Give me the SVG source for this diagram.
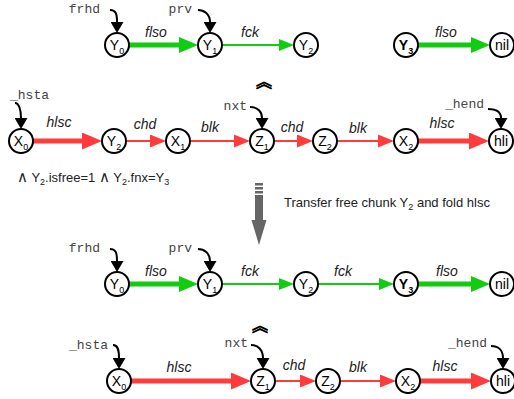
<svg xmlns="http://www.w3.org/2000/svg" width="514" height="399" viewBox="0 0 514 399">
<style>
.node circle{fill:#fff;stroke:#000;stroke-width:2}
.nl{font-family:"Liberation Sans",Arial,sans-serif;font-size:14px;fill:#000;text-anchor:middle}
.sub{font-size:9px}
.el{font-family:"Liberation Sans",Arial,sans-serif;font-size:14px;font-style:italic;fill:#222;text-anchor:middle}
.var{font-family:"Liberation Mono","Courier New",monospace;font-size:13px;fill:#444}
.txt{font-family:"Liberation Sans",Arial,sans-serif;font-size:13px;fill:#222}
.and{font-size:15px}
.gk{stroke:#11cc11;stroke-width:5;fill:none}
.gn{stroke:#11cc11;stroke-width:2;fill:none}
.rk{stroke:#ff3b3b;stroke-width:5;fill:none}
.rn{stroke:#ff3b3b;stroke-width:2;fill:none}
.ptr{stroke:#000;stroke-width:2;fill:none}
.car{font-family:"Noto Sans CJK SC",sans-serif;font-size:16px;fill:#000;stroke:#000;stroke-width:0.8;text-anchor:middle}
</style>
<defs>
<marker id="mgk" markerUnits="userSpaceOnUse" markerWidth="19" markerHeight="16" viewBox="0 0 19 16" refX="0" refY="8" orient="auto"><path d="M0,0L19,8L0,16z" fill="#11cc11"/></marker>
<marker id="mgn" markerUnits="userSpaceOnUse" markerWidth="15" markerHeight="12" viewBox="0 0 15 12" refX="0" refY="6" orient="auto"><path d="M0,0L15,6L0,12z" fill="#11cc11"/></marker>
<marker id="mrk" markerUnits="userSpaceOnUse" markerWidth="20" markerHeight="17" viewBox="0 0 20 17" refX="0" refY="8.5" orient="auto"><path d="M0,0L20,8.5L0,17z" fill="#ff3b3b"/></marker>
<marker id="mrn" markerUnits="userSpaceOnUse" markerWidth="16" markerHeight="13" viewBox="0 0 16 13" refX="0" refY="6.5" orient="auto"><path d="M0,0L16,6.5L0,13z" fill="#ff3b3b"/></marker>
<marker id="mp" markerUnits="userSpaceOnUse" markerWidth="11" markerHeight="13" viewBox="0 0 11 13" refX="0" refY="6.5" orient="auto"><path d="M0,0L11,6.5L0,13z" fill="#000"/></marker>
</defs>

<g id="connectors">
<!-- row 1 -->
<path class="gk" d="M129,45H179" marker-end="url(#mgk)"/>
<path class="gn" d="M222,45H279" marker-end="url(#mgn)"/>
<path class="gk" d="M418,45H471" marker-end="url(#mgk)"/>
<!-- row 2 -->
<path class="rk" d="M33,141H82" marker-end="url(#mrk)"/>
<path class="rn" d="M126,141H150" marker-end="url(#mrn)"/>
<path class="rn" d="M190,141H234" marker-end="url(#mrn)"/>
<path class="rn" d="M274,141H297" marker-end="url(#mrn)"/>
<path class="rn" d="M337,141H378" marker-end="url(#mrn)"/>
<path class="rk" d="M418,141H469" marker-end="url(#mrk)"/>
<!-- row 3 -->
<path class="gk" d="M129,284H179" marker-end="url(#mgk)"/>
<path class="gn" d="M222,284H279" marker-end="url(#mgn)"/>
<path class="gn" d="M318,284H379" marker-end="url(#mgn)"/>
<path class="gk" d="M418,284H471" marker-end="url(#mgk)"/>
<!-- row 4 -->
<path class="rk" d="M131,381H231" marker-end="url(#mrk)"/>
<path class="rn" d="M275,381H300" marker-end="url(#mrn)"/>
<path class="rn" d="M340,381H380" marker-end="url(#mrn)"/>
<path class="rk" d="M420,381H471" marker-end="url(#mrk)"/>
<!-- pointers -->
<path class="ptr" d="M110,10C116,10 117,14 117,22" marker-end="url(#mp)"/>
<path class="ptr" d="M198,10C204,10 210,14 210,22" marker-end="url(#mp)"/>
<path class="ptr" d="M15,103C19,103 21,110 21,118" marker-end="url(#mp)"/>
<path class="ptr" d="M250,107C258,107 262,112 262,118" marker-end="url(#mp)"/>
<path class="ptr" d="M488,109C496,109 501,112 501,118" marker-end="url(#mp)"/>
<path class="ptr" d="M110,249C116,249 117,253 117,261" marker-end="url(#mp)"/>
<path class="ptr" d="M198,249C204,249 210,253 210,261" marker-end="url(#mp)"/>
<path class="ptr" d="M113,345C118,345 119,350 119,358" marker-end="url(#mp)"/>
<path class="ptr" d="M251,345C258,345 263,350 263,358" marker-end="url(#mp)"/>
<path class="ptr" d="M491,346C498,346 503,350 503,358" marker-end="url(#mp)"/>
</g>

<g id="edge-labels">
<text class="el" x="156" y="37">flso</text>
<text class="el" x="250" y="37">fck</text>
<text class="el" x="446" y="37">flso</text>
<text class="el" x="59" y="127">hlsc</text>
<text class="el" x="145" y="129">chd</text>
<text class="el" x="210" y="132">blk</text>
<text class="el" x="292" y="132">chd</text>
<text class="el" x="358" y="133">blk</text>
<text class="el" x="442" y="128">hlsc</text>
<text class="el" x="156" y="276">flso</text>
<text class="el" x="250" y="276">fck</text>
<text class="el" x="343" y="276">fck</text>
<text class="el" x="447" y="276">flso</text>
<text class="el" x="179" y="372">hlsc</text>
<text class="el" x="294" y="370">chd</text>
<text class="el" x="358" y="372">blk</text>
<text class="el" x="445" y="371">hlsc</text>
</g>

<g id="pointer-labels">
<text class="var" x="100" y="13" text-anchor="end">frhd</text>
<text class="var" x="192" y="13" text-anchor="end">prv</text>
<text class="var" x="10" y="99">_hsta</text>
<text class="var" x="247" y="110" text-anchor="end">nxt</text>
<text class="var" x="484" y="108" text-anchor="end">_hend</text>
<text class="var" x="100" y="252" text-anchor="end">frhd</text>
<text class="var" x="192" y="252" text-anchor="end">prv</text>
<text class="var" x="108" y="349" text-anchor="end">_hsta</text>
<text class="var" x="248" y="347" text-anchor="end">nxt</text>
<text class="var" x="487" y="347" text-anchor="end">_hend</text>
</g>

<!-- row 1 nodes -->
<g id="r1-Y0" class="node"><circle cx="117" cy="45" r="12"/><text class="nl" x="117" y="50">Y<tspan class="sub" dy="4">0</tspan></text></g>
<g id="r1-Y1" class="node"><circle cx="210" cy="45" r="12"/><text class="nl" x="210" y="50">Y<tspan class="sub" dy="4">1</tspan></text></g>
<g id="r1-Y2" class="node"><circle cx="306" cy="45" r="12"/><text class="nl" x="306" y="50">Y<tspan class="sub" dy="4">2</tspan></text></g>
<g id="r1-Y3" class="node"><circle cx="406" cy="45" r="12"/><text class="nl" x="406" y="50" font-weight="bold">Y<tspan class="sub" dy="4">3</tspan></text></g>
<g id="r1-nil" class="node"><circle cx="502" cy="45" r="12"/><text class="nl" x="502" y="50">nil</text></g>

<!-- row 2 nodes -->
<g id="r2-X0" class="node"><circle cx="21" cy="141" r="12"/><text class="nl" x="21" y="146">X<tspan class="sub" dy="4">0</tspan></text></g>
<g id="r2-Y2" class="node"><circle cx="114" cy="141" r="12"/><text class="nl" x="114" y="146">Y<tspan class="sub" dy="4">2</tspan></text></g>
<g id="r2-X1" class="node"><circle cx="178" cy="141" r="12"/><text class="nl" x="178" y="146">X<tspan class="sub" dy="4">1</tspan></text></g>
<g id="r2-Z1" class="node"><circle cx="262" cy="141" r="12"/><text class="nl" x="262" y="146">Z<tspan class="sub" dy="4">1</tspan></text></g>
<g id="r2-Z2" class="node"><circle cx="325" cy="141" r="12"/><text class="nl" x="325" y="146">Z<tspan class="sub" dy="4">2</tspan></text></g>
<g id="r2-X2" class="node"><circle cx="406" cy="141" r="12"/><text class="nl" x="406" y="146">X<tspan class="sub" dy="4">2</tspan></text></g>
<g id="r2-hli" class="node"><circle cx="501" cy="141" r="12"/><text class="nl" x="501" y="146">hli</text></g>

<!-- row 3 nodes -->
<g id="r3-Y0" class="node"><circle cx="117" cy="284" r="12"/><text class="nl" x="117" y="289">Y<tspan class="sub" dy="4">0</tspan></text></g>
<g id="r3-Y1" class="node"><circle cx="210" cy="284" r="12"/><text class="nl" x="210" y="289">Y<tspan class="sub" dy="4">1</tspan></text></g>
<g id="r3-Y2" class="node"><circle cx="306" cy="284" r="12"/><text class="nl" x="306" y="289">Y<tspan class="sub" dy="4">2</tspan></text></g>
<g id="r3-Y3" class="node"><circle cx="406" cy="284" r="12"/><text class="nl" x="406" y="289" font-weight="bold">Y<tspan class="sub" dy="4">3</tspan></text></g>
<g id="r3-nil" class="node"><circle cx="502" cy="284" r="12"/><text class="nl" x="502" y="289">nil</text></g>

<!-- row 4 nodes -->
<g id="r4-X0" class="node"><circle cx="119" cy="381" r="12"/><text class="nl" x="119" y="386">X<tspan class="sub" dy="4">0</tspan></text></g>
<g id="r4-Z1" class="node"><circle cx="263" cy="381" r="12"/><text class="nl" x="263" y="386">Z<tspan class="sub" dy="4">1</tspan></text></g>
<g id="r4-Z2" class="node"><circle cx="328" cy="381" r="12"/><text class="nl" x="328" y="386">Z<tspan class="sub" dy="4">2</tspan></text></g>
<g id="r4-X2" class="node"><circle cx="408" cy="381" r="12"/><text class="nl" x="408" y="386">X<tspan class="sub" dy="4">2</tspan></text></g>
<g id="r4-hli" class="node"><circle cx="503" cy="381" r="12"/><text class="nl" x="503" y="386">hli</text></g>

<g id="annotations">
<text class="car" x="264" y="87">︽</text>
<text class="car" x="260" y="331">︽</text>
<text class="txt" x="17" y="182"><tspan class="and">∧</tspan> Y<tspan class="sub" dy="3">2</tspan><tspan dy="-3">.isfree=1 </tspan><tspan class="and">∧</tspan> Y<tspan class="sub" dy="3">2</tspan><tspan dy="-3">.fnx=Y</tspan><tspan class="sub" dy="3">3</tspan></text>
<text class="txt" x="284" y="207">Transfer free chunk Y<tspan class="sub" dy="3">2</tspan><tspan dy="-3"> and fold hlsc</tspan></text>
</g>

<g id="transform-arrow" fill="#666">
<rect x="255" y="183" width="8" height="2.5"/>
<rect x="255" y="187" width="8" height="2.5"/>
<rect x="255" y="191" width="8" height="2.5"/>
<rect x="255" y="195" width="8" height="27"/>
<path d="M251.5,220H266.5L259,245z"/>
</g>
</svg>
